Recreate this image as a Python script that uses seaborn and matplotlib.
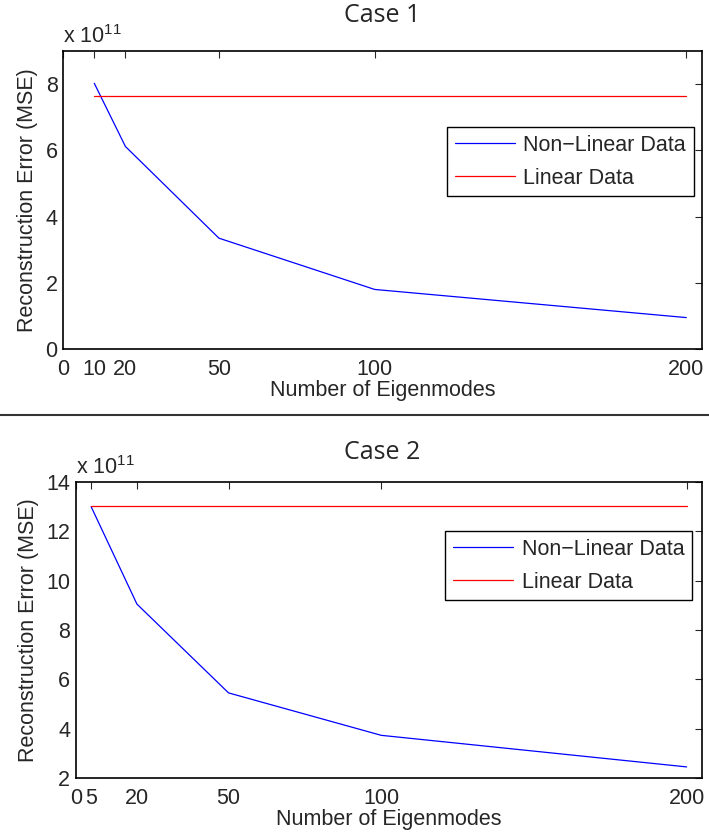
import numpy as np
import pandas as pd
import matplotlib
matplotlib.use('Agg')
import matplotlib.pyplot as plt
import seaborn as sns
from matplotlib.lines import Line2D

# Data (values in units of 1e11)
case1_modes = [10, 20, 50, 100, 200]
case1_nonlinear = [8.03, 6.12, 3.35, 1.80, 0.95]
case1_linear = [7.65, 7.65, 7.65, 7.65, 7.65]

case2_modes = [5, 20, 50, 100, 200]
case2_nonlinear = [13.0, 9.05, 5.45, 3.73, 2.45]
case2_linear = [13.02, 13.02, 13.02, 13.02, 13.02]

case1_xticks = [0, 10, 20, 50, 100, 200]
case2_xticks = [0, 5, 20, 50, 100, 200]
case1_yticks = [0, 2, 4, 6, 8]
case2_yticks = [2, 4, 6, 8, 10, 12, 14]

labels = ['Non\u2212Linear Data', 'Linear Data']
colors = ['#0000ff', '#ff0000']
FS = 15.5

sns.set_style('white')
plt.rcParams['font.family'] = ['Liberation Sans', 'DejaVu Sans']
plt.rcParams['mathtext.fontset'] = 'custom'
plt.rcParams['mathtext.rm'] = 'Liberation Sans'

fig = plt.figure(figsize=(7.09, 8.39), dpi=100)

def draw_case(rect, modes, nonlin, lin, xticks, yticks, ylim):
    ax = fig.add_axes(rect)
    df = pd.DataFrame({
        'modes': modes * 2,
        'mse': nonlin + lin,
        'series': [labels[0]] * len(modes) + [labels[1]] * len(modes),
    })
    sns.lineplot(data=df, x='modes', y='mse', hue='series',
                 palette=dict(zip(labels, colors)),
                 linewidth=0.9, ax=ax, legend=False)
    ax.set_xlim(0, 205)
    ax.set_ylim(*ylim)
    ax.set_xticks(xticks)
    ax.set_yticks(yticks)
    ax.tick_params(direction='in', top=True, right=True, length=5, width=0.8,
                   labelsize=FS)
    ax.tick_params(axis='x', pad=7)
    ax.tick_params(axis='y', pad=4)
    for s in ax.spines.values():
        s.set_color('black')
        s.set_linewidth(1.2)
    ax.set_xlabel('Number of Eigenmodes', fontsize=FS, labelpad=0)
    ax.set_ylabel('Reconstruction Error (MSE)', fontsize=FS, labelpad=5)
    ax.text(0, 1.01, r'x 10$^{11}$', transform=ax.transAxes, fontsize=FS,
            ha='left', va='bottom')
    return ax

def add_legend(ax, anchor):
    handles = [Line2D([], [], color=c, lw=0.9) for c in colors]
    ax.legend(handles, labels, loc='upper right', bbox_to_anchor=anchor,
              fontsize=FS, frameon=True, fancybox=False, edgecolor='black',
              framealpha=1, borderpad=0.35, borderaxespad=0, handlelength=2.8,
              handletextpad=0.4, labelspacing=0.55)

ax1 = draw_case([0.089, 0.584, 0.901, 0.355], case1_modes, case1_nonlinear,
                case1_linear, case1_xticks, case1_yticks, (0, 9))
add_legend(ax1, (0.987, 0.745))

ax2 = draw_case([0.107, 0.0727, 0.883, 0.3528], case2_modes, case2_nonlinear,
                case2_linear, case2_xticks, case2_yticks, (2, 14))
add_legend(ax2, (0.984, 0.834))

fig.text(0.539, 0.981, 'Case 1', ha='center', va='center', fontsize=18,
         family=['Open Sans', 'DejaVu Sans'])
fig.text(0.539, 0.461, 'Case 2', ha='center', va='center', fontsize=18,
         family=['Open Sans', 'DejaVu Sans'])
fig.add_artist(Line2D([0, 1], [0.505, 0.505], color='#333333', lw=1.5,
                      transform=fig.transFigure))

fig.savefig('out.png', dpi=100)
